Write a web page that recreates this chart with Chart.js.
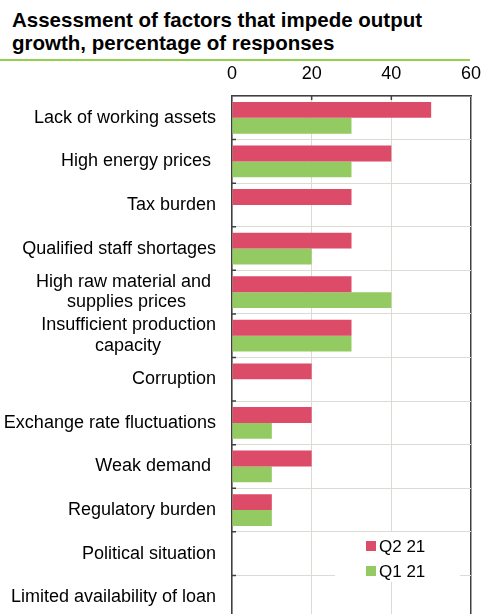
<!DOCTYPE html>
<html lang="en">
<head>
<meta charset="UTF-8">
<title>Factors that impede output growth</title>
<script src="https://cdn.jsdelivr.net/npm/chart.js@4.4.1/dist/chart.umd.min.js"></script>
<style>
    html, body { margin: 0; padding: 0; background: #fff; overflow: hidden; }
    .title {
        font: bold 20.5px "Liberation Sans", Arial, sans-serif;
        line-height: 23px;
        color: #000;
        width: 470px;
        height: 61px;
        box-sizing: border-box;
        padding: 8px 0 0 12px;
        border-bottom: 2px solid #92d050;
    }
    canvas { display: block; }
</style>
</head>
<body>
<div class="title">Assessment of factors that impede output<br>growth, percentage of responses</div>
<canvas id="chart" width="481" height="562"></canvas>
<script>
var categories = [
    'Lack of working assets',
    'High energy prices ',
    'Tax burden',
    'Qualified staff shortages',
    ['High raw material and ', 'supplies prices'],
    ['Insufficient production', 'capacity'],
    'Corruption',
    'Exchange rate fluctuations',
    'Weak demand ',
    'Regulatory burden',
    'Political situation',
    'Limited availability of loan'
]
var q2 = [50, 40, 30, 30, 30, 30, 20, 20, 20, 10, 0, 0]
var q1 = [30, 30, 0, 20, 40, 30, 0, 10, 10, 10, 0, 0]
var seriesNames = ['Q2 21', 'Q1 21']
var seriesColors = ['#dc4b67', '#93cb62']
var xTicks = [0, 20, 40, 60]

var FONT = '"Liberation Sans", Arial, sans-serif'
var measureCtx = document.createElement('canvas').getContext('2d')
measureCtx.font = '18px ' + FONT

// center the lines of a wrapped label by padding with spaces
function centerLines(lines) {
    var widths = lines.map(function (l) { return measureCtx.measureText(l).width })
    var maxW = Math.max.apply(null, widths)
    var sp = measureCtx.measureText(' ').width
    return lines.map(function (l, i) {
        var n = Math.round((maxW - widths[i]) / 2 / sp)
        return l + ' '.repeat(n)
    })
}

var innerTicks = {
    id: 'innerTicks',
    afterDatasetsDraw: function (chart) {
        var ctx = chart.ctx, a = chart.chartArea
        var ys = chart.scales.y, xs = chart.scales.x
        ctx.save()
        ctx.strokeStyle = '#404040'
        ctx.lineWidth = 1.5
        ctx.beginPath()
        for (var i = 1; i < categories.length; i++) {
            var y = (ys.getPixelForValue(i - 1) + ys.getPixelForValue(i)) / 2
            ctx.moveTo(a.left, y)
            ctx.lineTo(a.left + 4, y)
        }
        xTicks.slice(1, -1).forEach(function (v) {
            var x = xs.getPixelForValue(v)
            ctx.moveTo(x, a.top)
            ctx.lineTo(x, a.top + 4)
        })
        ctx.stroke()
        ctx.restore()
    }
}

var boxLegend = {
    id: 'boxLegend',
    afterDatasetsDraw: function (chart) {
        var ctx = chart.ctx, a = chart.chartArea
        ctx.save()
        ctx.fillStyle = '#fff'
        ctx.fillRect(a.right - 136, a.bottom - 87, 125, 50)
        ctx.font = '17px ' + FONT
        ctx.textBaseline = 'middle'
        seriesNames.forEach(function (name, i) {
            var cy = a.bottom - 73 + i * 25
            ctx.fillStyle = seriesColors[i]
            ctx.fillRect(a.right - 105, cy - 5, 10, 10)
            ctx.fillStyle = '#000'
            ctx.fillText(name, a.right - 92, cy + 1)
        })
        ctx.restore()
    }
}

new Chart(document.getElementById('chart'), {
    type: 'bar',
    data: {
        labels: categories.map(function (c) { return Array.isArray(c) ? centerLines(c) : c }),
        datasets: [
            { label: seriesNames[0], data: q2, backgroundColor: seriesColors[0], borderWidth: 0 },
            { label: seriesNames[1], data: q1, backgroundColor: seriesColors[1], borderWidth: 0 }
        ]
    },
    options: {
        indexAxis: 'y',
        responsive: false,
        animation: false,
        layout: { padding: { left: 0, right: 0, top: 0, bottom: 4 } },
        datasets: { bar: { categoryPercentage: 0.73, barPercentage: 1 } },
        plugins: {
            legend: { display: false },
            tooltip: { enabled: false }
        },
        scales: {
            x: {
                position: 'top',
                min: 0,
                max: 60,
                afterBuildTicks: function (s) { s.ticks = xTicks.map(function (v) { return { value: v } }) },
                afterFit: function (s) { s.height = 35; s.paddingRight = 10; s.paddingLeft = 0 },
                ticks: { color: '#000', padding: 11, font: { family: FONT, size: 18 } },
                grid: {
                    drawTicks: false,
                    color: function (c) { return c.tick && c.tick.value === 60 ? '#404040' : '#dcdbd3' },
                    lineWidth: function (c) { return c.tick && c.tick.value === 60 ? 1.5 : 1 }
                },
                border: { color: '#404040', width: 1.5 }
            },
            y: {
                afterFit: function (s) { s.width = 232; s.paddingTop = 0; s.paddingBottom = 0 },
                ticks: {
                    color: '#000',
                    padding: 16,
                    autoSkip: false,
                    font: { family: FONT, size: 18, lineHeight: 1.15 }
                },
                grid: { drawTicks: false, color: '#dcdbd3', offset: true },
                border: { color: '#404040', width: 1.5 }
            }
        }
    },
    plugins: [innerTicks, boxLegend]
})
</script>
</body>
</html>
